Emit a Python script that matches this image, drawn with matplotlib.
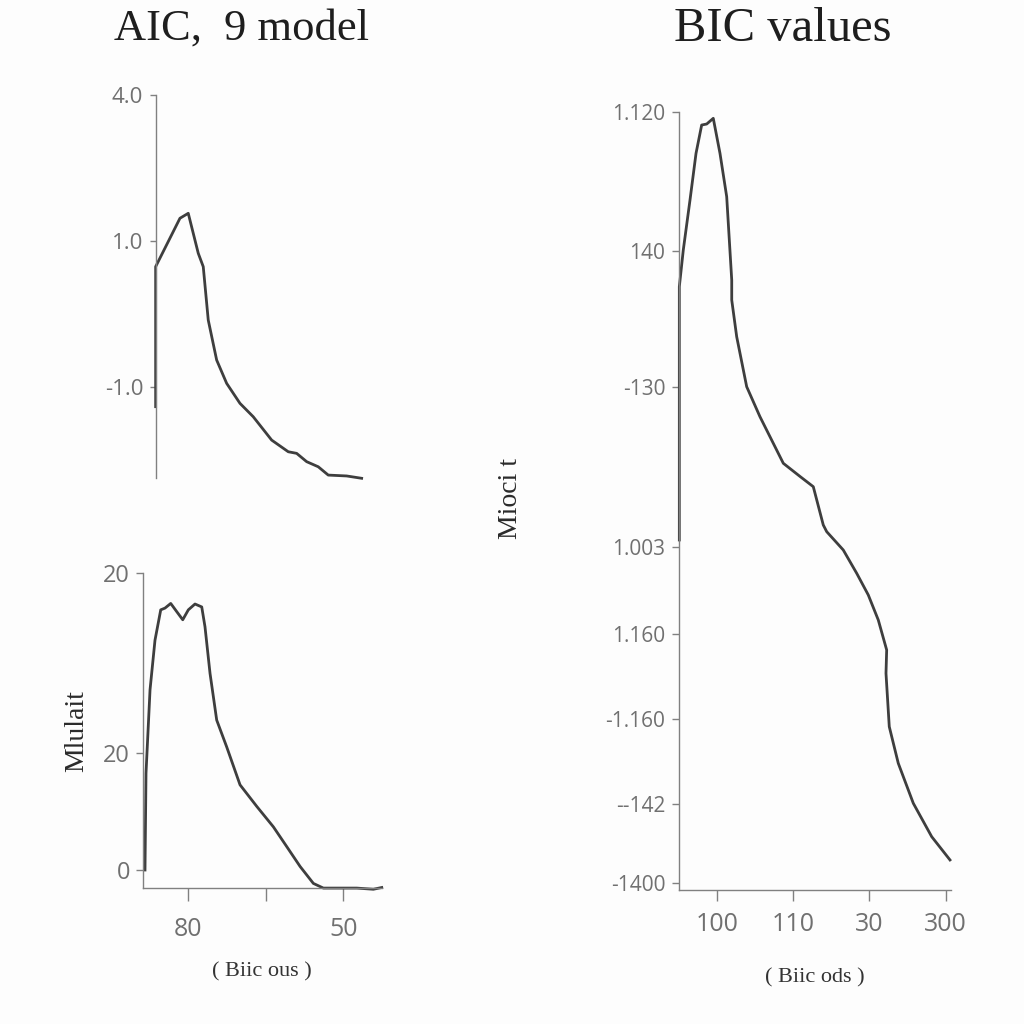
import matplotlib.pyplot as plt

# --- datos ---
# panel superior izquierdo (AIC)
aic_x = [0, 0, 2.43, 3.26, 4.26, 4.76, 5.26, 6.1, 7.1, 8.43, 9.76, 11.6, 13.26,
         14.1, 15.1, 16.26, 17.26, 19.1, 20.6]
aic_y = [-0.137, 0.823, 1.155, 1.189, 0.915, 0.823, 0.457, 0.183, 0.023, -0.114,
         -0.206, -0.366, -0.446, -0.457, -0.514, -0.549, -0.606, -0.612, -0.628]
aic_yticks = [0, 1, 2]
aic_ylabels = ["-1.0", "1.0", "4.0"]

# panel inferior izquierdo
low_x = [0.441, 0.454, 0.506, 0.570, 0.644, 0.699, 0.773, 0.850, 0.928, 1.0,
         1.086, 1.173, 1.215, 1.280, 1.366, 1.495, 1.667, 1.883, 2.097, 2.270,
         2.442, 2.613, 2.742, 2.957, 3.173, 3.387, 3.495]
low_y = [0, 16.6, 30.9, 39.4, 44.6, 44.9, 45.7, 44.3, 42.9, 44.6, 45.6, 45.1,
         41.7, 33.7, 25.7, 21.1, 14.6, 10.9, 7.4, 4.0, 0.6, -2.3, -3.1, -3.1,
         -3.1, -3.3, -3.0]
low_yticks = [0, 20, 50.86]
low_ylabels = ["0", "20", "20"]
low_xticks = [1, 2, 3]
low_xlabels = ["80", "", "50"]

# panel derecho (BIC)
bic_x = [0.510, 0.510, 0.562, 0.650, 0.729, 0.803, 0.869, 0.955, 1.043, 1.131,
         1.197, 1.197, 1.262, 1.393, 1.567, 1.873, 2.096, 2.266, 2.397, 2.442,
         2.659, 2.835, 2.987, 3.118, 3.228, 3.219, 3.262, 3.380, 3.577, 3.818, 4.058]
bic_y = [35.0, 60.33, 64.0, 69.0, 73.67, 76.5, 76.6, 77.17, 73.67, 69.33, 61.0,
         59.0, 55.33, 50.33, 47.33, 42.67, 41.33, 40.33, 36.5, 35.83, 34.0, 31.67,
         29.5, 27.0, 24.0, 21.67, 16.33, 12.67, 8.67, 5.33, 3.0]
bic_yticks = [0.67, 8.6, 17.1, 25.6, 34.3, 50.3, 63.9, 77.83]
bic_ylabels = ["-1400", "--142", "-1.160", "1.160", "1.003", "-130", "140", "1.120"]
bic_xticks = [1, 2, 3, 4]
bic_xlabels = ["100", "110", "30", "300"]

linea = "#3e3e3e"
gris = "#707070"
serif = ["Liberation Serif", "DejaVu Serif"]

fig = plt.figure(figsize=(10.24, 10.24), dpi=100)
fig.patch.set_facecolor("#fdfdfd")


def estilo(ax):
    for s in ["top", "right"]:
        ax.spines[s].set_visible(False)
    for s in ["left", "bottom"]:
        ax.spines[s].set_color("#808080")
        ax.spines[s].set_linewidth(1.0)
    ax.set_facecolor("none")
    ax.tick_params(colors="#808080", labelcolor=gris, direction="out", width=1.0)


# superior izquierdo
ax1 = fig.add_axes([0.152, 0.5332, 0.2044, 0.374])
estilo(ax1)
ax1.plot(aic_x, aic_y, color=linea, lw=2.0, solid_joinstyle="round", clip_on=False)
ax1.set_xlim(0, 20.93)
ax1.set_ylim(-0.626, 2.0)
ax1.spines["bottom"].set_visible(False)
ax1.set_xticks([])
ax1.set_yticks(aic_yticks)
ax1.set_yticklabels(aic_ylabels, family="Open Sans", fontsize=16)
ax1.tick_params(axis="y", length=4, pad=5)

# inferior izquierdo
ax2 = fig.add_axes([0.1394, 0.1325, 0.2334, 0.3076])
estilo(ax2)
ax2.plot(low_x, low_y, color=linea, lw=2.0, solid_joinstyle="round", clip_on=False)
ax2.set_xlim(0.412, 3.495)
ax2.set_ylim(-3.14, 50.86)
ax2.set_yticks(low_yticks)
ax2.set_yticklabels(low_ylabels, family="Open Sans", fontsize=17)
ax2.set_xticks(low_xticks)
ax2.set_xticklabels(low_xlabels, family="Open Sans", fontsize=18)
ax2.tick_params(axis="y", length=5, pad=4)
ax2.tick_params(axis="x", length=9, pad=12)
ax2.set_ylabel("Mlulait", family=serif, fontsize=20, color="#2a2a2a", labelpad=10)
ax2.set_xlabel("( Biic ous )", family=serif, fontsize=16, color="#333333", labelpad=14)

# derecho
ax3 = fig.add_axes([0.6634, 0.1309, 0.2650, 0.760])
estilo(ax3)
ax3.plot(bic_x, bic_y, color=linea, lw=2.0, solid_joinstyle="round", clip_on=False)
ax3.set_xlim(0.51, 4.067)
ax3.set_ylim(0, 77.83)
ax3.set_yticks(bic_yticks)
ax3.set_yticklabels(bic_ylabels, family="Open Sans", fontsize=15)
ax3.set_xticks(bic_xticks)
ax3.set_xticklabels(bic_xlabels, family="Open Sans", fontsize=18)
ax3.tick_params(axis="y", length=5, pad=5)
ax3.tick_params(axis="x", length=8, pad=8)
ax3.set_xlabel("( Biic ods )", family=serif, fontsize=16, color="#333333", labelpad=22)

fig.text(0.499, 0.513, "Mioci t", family=serif, fontsize=20, color="#2a2a2a",
         rotation=90, ha="center", va="center")

fig.text(0.236, 0.972, "AIC,  9 model", family=serif, fontsize=32, color="#1e1e1e",
         ha="center", va="center")
fig.text(0.764, 0.972, "BIC values", family=serif, fontsize=35, color="#1e1e1e",
         ha="center", va="center")

fig.savefig("out.png", dpi=100, facecolor=fig.get_facecolor())
